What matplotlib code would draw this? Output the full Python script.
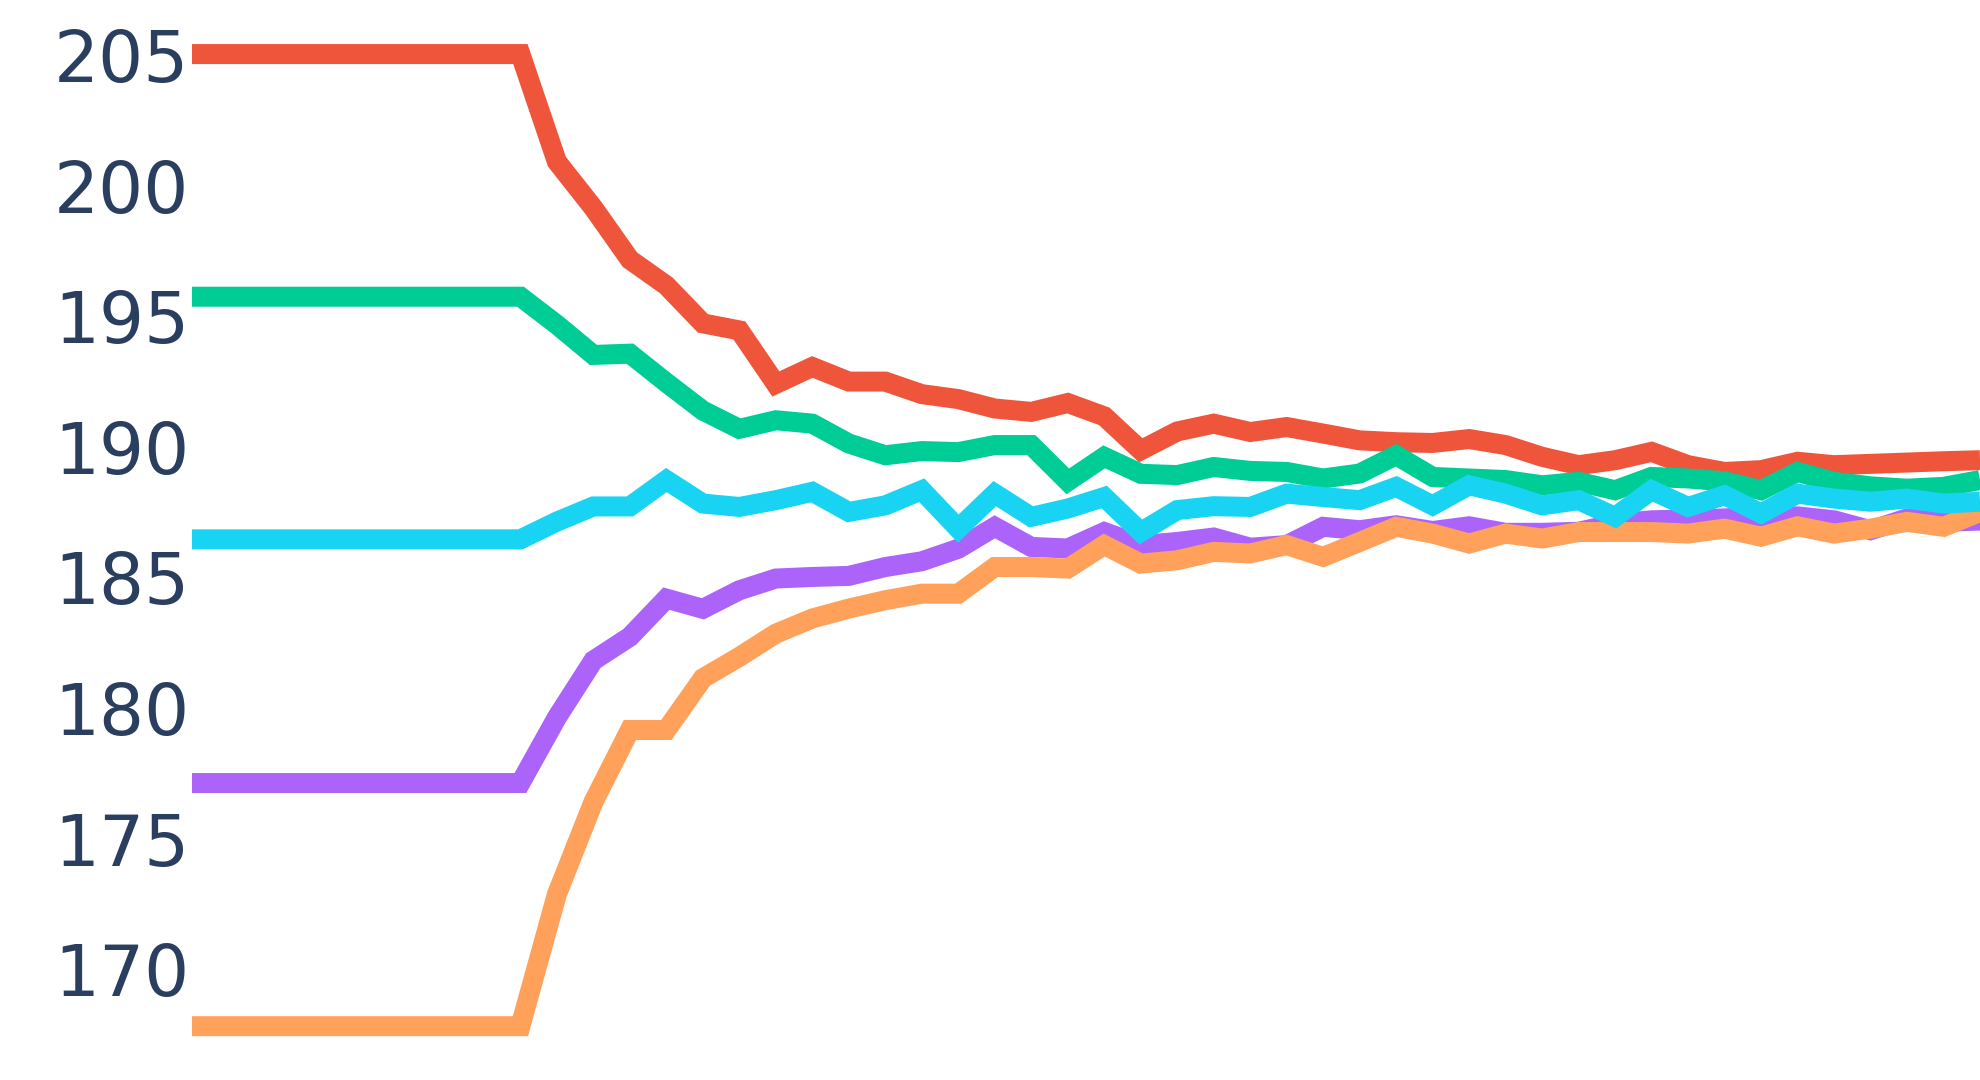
import numpy as np
import matplotlib
matplotlib.use('Agg')
import matplotlib.pyplot as plt

# Five running series
runs = np.arange(1, 51)

red_vals = [205.04, 205.04, 205.04, 205.04, 205.04, 205.04, 205.04, 205.04, 205.04, 205.04,
            200.92, 199.15, 197.17, 196.18, 194.73, 194.46, 192.41, 193.06, 192.50, 192.50,
            192.02, 191.83, 191.47, 191.34, 191.68, 191.17, 189.87, 190.59, 190.89, 190.57,
            190.76, 190.51, 190.25, 190.18, 190.15, 190.30, 190.07, 189.62, 189.30, 189.49,
            189.81, 189.30, 189.04, 189.11, 189.43, 189.30, 189.35, 189.40, 189.45, 189.49]

green_vals = [195.75, 195.75, 195.75, 195.75, 195.75, 195.75, 195.75, 195.75, 195.75, 195.75,
              194.68, 193.52, 193.57, 192.46, 191.39, 190.69, 191.02, 190.89, 190.13, 189.68,
              189.84, 189.80, 190.07, 190.07, 188.68, 189.62, 188.97, 188.92, 189.23, 189.08,
              189.04, 188.79, 188.98, 189.68, 188.85, 188.79, 188.73, 188.53, 188.66, 188.34,
              188.85, 188.79, 188.68, 188.34, 189.04, 188.66, 188.49, 188.40, 188.47, 188.73]

purple_vals = [177.13, 177.13, 177.13, 177.13, 177.13, 177.13, 177.13, 177.13, 177.13, 177.13,
               179.64, 181.82, 182.73, 184.19, 183.80, 184.51, 184.96, 185.02, 185.06, 185.40,
               185.62, 186.10, 186.94, 186.17, 186.11, 186.74, 186.24, 186.36, 186.53, 186.14,
               186.24, 186.94, 186.81, 187.00, 186.78, 186.96, 186.71, 186.71, 186.75, 187.06,
               187.19, 187.22, 187.26, 187.33, 187.34, 187.19, 186.81, 187.26, 187.13, 187.18]

orange_vals = [167.82, 167.82, 167.82, 167.82, 167.82, 167.82, 167.82, 167.82, 167.82, 167.82,
               172.87, 176.40, 179.16, 179.16, 181.14, 181.96, 182.85, 183.43, 183.81, 184.13,
               184.38, 184.38, 185.40, 185.40, 185.34, 186.24, 185.53, 185.66, 185.98, 185.92,
               186.24, 185.79, 186.36, 186.94, 186.68, 186.30, 186.68, 186.49, 186.74, 186.74,
               186.74, 186.68, 186.87, 186.56, 186.96, 186.68, 186.87, 187.13, 186.94, 187.51]

cyan_vals = [186.46, 186.46, 186.46, 186.46, 186.46, 186.46, 186.46, 186.46, 186.46, 186.46,
             187.14, 187.72, 187.72, 188.73, 187.83, 187.70, 187.96, 188.28, 187.51, 187.76,
             188.34, 186.87, 188.21, 187.32, 187.64, 188.08, 186.74, 187.58, 187.73, 187.70,
             188.21, 188.08, 187.96, 188.47, 187.76, 188.53, 188.21, 187.76, 187.96, 187.32,
             188.34, 187.70, 188.15, 187.45, 188.21, 188.02, 187.90, 188.02, 187.83, 187.90]

y_ticks = [170, 175, 180, 185, 190, 195, 200, 205]

# draw order matters: later series sit on top
series = [
    (red_vals, '#EF553B'),
    (green_vals, '#00CC96'),
    (purple_vals, '#AB63FA'),
    (orange_vals, '#FFA15A'),
    (cyan_vals, '#19D3F3'),
]

fig = plt.figure(figsize=(19.8, 10.8), dpi=100)
ax = fig.add_axes([192 / 1980, 0, 1 - 192 / 1980, 1])

for vals, color in series:
    ax.plot(runs, vals, color=color, linewidth=14.4,
            solid_joinstyle='miter', solid_capstyle='butt')

ax.set_xlim(runs[0], runs[-1])
ax.set_ylim(165.76, 207.11)

ax.set_yticks(y_ticks)
ax.set_yticklabels([str(t) for t in y_ticks])
ax.set_xticks([])
ax.tick_params(axis='y', length=0, pad=2, labelsize=51, labelcolor='#2a3f5f')
for lbl in ax.get_yticklabels():
    lbl.set_family('DejaVu Sans')

for side in ['top', 'right', 'bottom', 'left']:
    ax.spines[side].set_visible(False)

fig.savefig('out.png', dpi=100, facecolor='white')
